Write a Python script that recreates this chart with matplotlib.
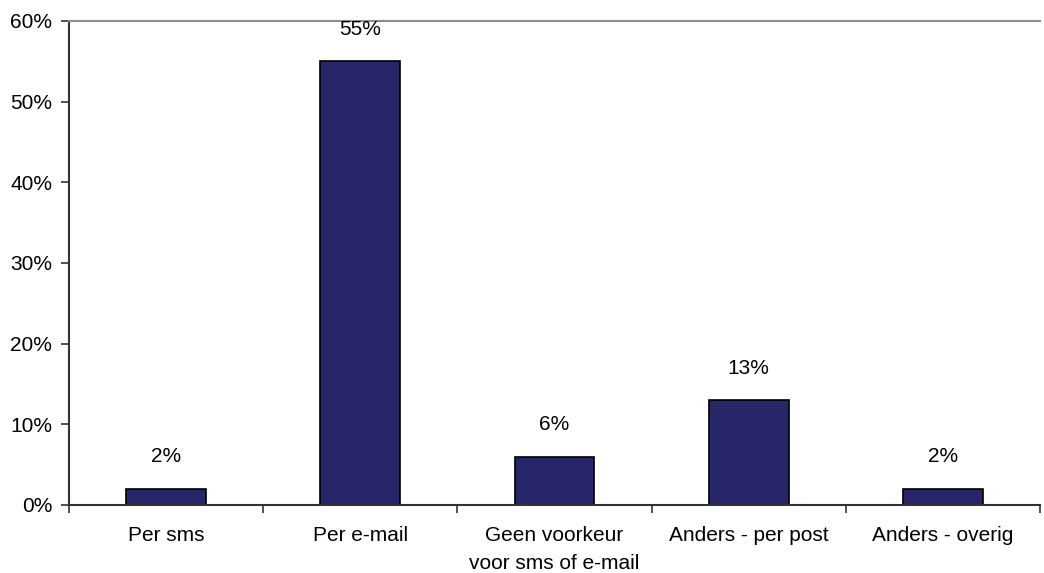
import matplotlib
matplotlib.use("Agg")
import matplotlib.pyplot as plt
from matplotlib.ticker import FixedLocator, PercentFormatter

categories = ["Per sms", "Per e-mail", "Geen voorkeur\nvoor sms of e-mail",
              "Anders - per post", "Anders - overig"]
values = [2, 55, 6, 13, 2]
y_ticks = [0, 10, 20, 30, 40, 50, 60]

plt.rcParams["font.family"] = ["Liberation Sans", "DejaVu Sans"]

fig = plt.figure(figsize=(10.44, 5.73), dpi=100)
ax = fig.add_axes([69 / 1044, 68 / 573, 971 / 1044, (505 - 21) / 573])

x = list(range(len(categories)))
bars = ax.bar(x, values, width=0.41, color="#262668", edgecolor="black", linewidth=1.2)

for xi, v in zip(x, values):
    ax.annotate(f"{v}%", (xi, v), xytext=(0, 23), textcoords="offset points",
                ha="center", va="center", fontsize=15)

ax.set_xlim(-0.5, len(categories) - 0.5)
ax.set_ylim(0, 60)
ax.set_yticks(y_ticks)
ax.yaxis.set_major_formatter(PercentFormatter(decimals=0))

ax.set_xticks(x)
ax.set_xticklabels(categories, fontsize=15, linespacing=1.6)
ax.xaxis.set_minor_locator(FixedLocator([i - 0.5 for i in range(len(categories) + 1)]))
ax.tick_params(axis="x", which="major", length=0, pad=15)
ax.tick_params(axis="x", which="minor", length=6, width=1.2, color="#333333", direction="out")
ax.tick_params(axis="y", length=6, width=1.2, color="#333333", labelsize=15, pad=6)

for side in ("left", "bottom"):
    ax.spines[side].set_color("#333333")
    ax.spines[side].set_linewidth(1.5)
ax.spines["top"].set_color("#8c8c8c")
ax.spines["top"].set_linewidth(1.5)
ax.spines["right"].set_visible(False)

fig.savefig("out.png", dpi=100)
